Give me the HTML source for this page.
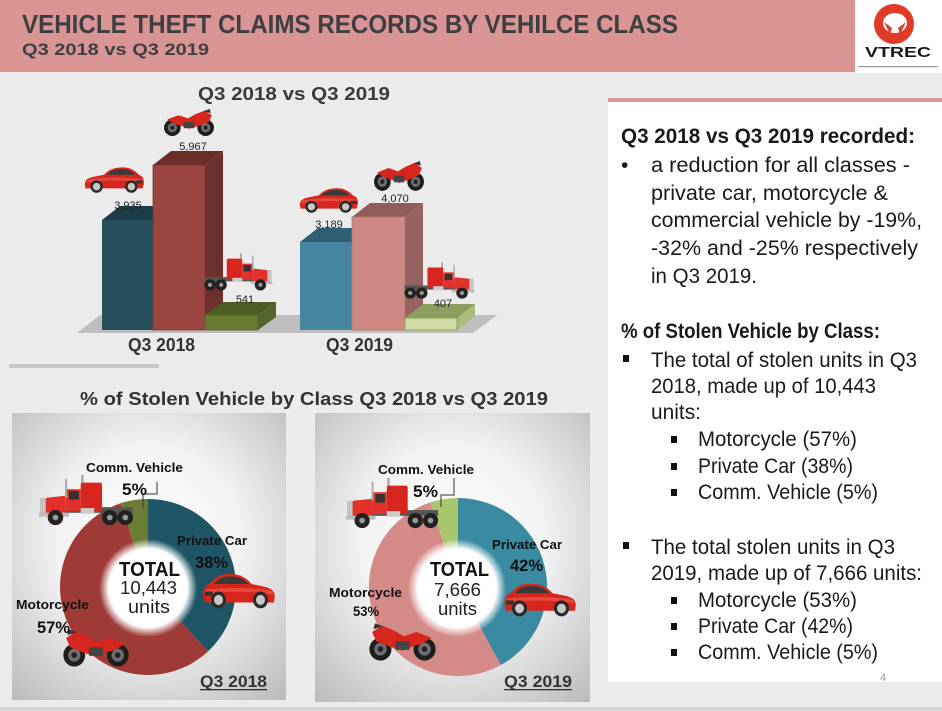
<!DOCTYPE html>
<html><head><meta charset="utf-8">
<style>
html,body{margin:0;padding:0;background:#ebebeb;}
svg{display:block;}
</style></head>
<body>
<svg width="942" height="711" viewBox="0 0 942 711" xmlns="http://www.w3.org/2000/svg" font-family="'Liberation Sans', Arial, sans-serif">
<defs>
  <radialGradient id="panelG" cx="0.5" cy="0.45" r="0.75">
    <stop offset="0" stop-color="#ffffff"/>
    <stop offset="0.45" stop-color="#f2f2f2"/>
    <stop offset="1" stop-color="#b9b9b9"/>
  </radialGradient>
  <radialGradient id="holeG" cx="0.5" cy="0.5" r="0.5">
    <stop offset="0" stop-color="#ffffff"/>
    <stop offset="0.8" stop-color="#ffffff"/>
    <stop offset="1" stop-color="#ffffff" stop-opacity="0"/>
  </radialGradient>
  <symbol id="car" viewBox="0 0 100 50" preserveAspectRatio="none">
    <path d="M3,34 C3,27 8,24 18,22 L34,19 C42,10 52,7 64,7 C76,7 84,12 90,19 C96,21 99,26 98,34 L96,41 L4,41 Z" fill="#d7261e"/>
    <path d="M6,28 C20,24 60,22 96,26 L96,30 C60,27 20,28 6,32 Z" fill="#f0574a" opacity="0.7"/>
    <path d="M38,19 C45,12 53,10 63,10 C72,10 79,13 84,19 Z" fill="#3a3a3a"/>
    <rect x="86" y="28" width="10" height="5" fill="#333"/>
    <circle cx="22" cy="38" r="10" fill="#2a2a2a"/><circle cx="22" cy="38" r="6" fill="#c8c8c8"/>
    <circle cx="78" cy="38" r="10" fill="#2a2a2a"/><circle cx="78" cy="38" r="6" fill="#c8c8c8"/>
  </symbol>
  <symbol id="moto" viewBox="0 0 100 56" preserveAspectRatio="none">
    <circle cx="18" cy="38" r="16" fill="#1e1e1e"/><circle cx="18" cy="38" r="9" fill="#6f6f6f"/><circle cx="18" cy="38" r="4" fill="#222"/>
    <circle cx="82" cy="38" r="16" fill="#1e1e1e"/><circle cx="82" cy="38" r="9" fill="#6f6f6f"/><circle cx="82" cy="38" r="4" fill="#222"/>
    <path d="M8,22 L30,14 L48,20 L62,12 L80,5 L94,14 L88,27 L70,34 L50,40 L34,34 L20,30 Z" fill="#d7261e"/>
    <rect x="40" y="27" width="20" height="12" fill="#444"/>
    <path d="M78,6 L90,2 L92,10 Z" fill="#333"/>
  </symbol>
  <symbol id="truck" viewBox="0 0 100 55" preserveAspectRatio="none">
    <rect x="2" y="34" width="70" height="6" fill="#555"/>
    <rect x="53" y="0" width="2.5" height="30" fill="#aaa"/>
    <rect x="34" y="8" width="22" height="30" fill="#d7261e" rx="2"/>
    <rect x="56" y="15" width="16" height="23" fill="#e2312a"/>
    <rect x="58" y="17" width="10" height="9" fill="#333"/>
    <path d="M72,22 L91,24 L96,28 L96,40 L72,40 Z" fill="#e2312a"/>
    <rect x="92" y="24" width="6" height="16" fill="#c4c4c4"/>
    <rect x="68" y="40" width="31" height="4" fill="#bbb"/>
    <rect x="70" y="4" width="2" height="20" fill="#aaa"/>
    <rect x="42" y="35" width="14" height="6" fill="#ccc"/>
    <circle cx="10" cy="45" r="8" fill="#222"/><circle cx="10" cy="45" r="3" fill="#999"/>
    <circle cx="26" cy="45" r="8" fill="#222"/><circle cx="26" cy="45" r="3" fill="#999"/>
    <circle cx="82" cy="45" r="8" fill="#222"/><circle cx="82" cy="45" r="3" fill="#999"/>
  </symbol>
</defs>

<!-- background -->
<rect x="0" y="0" width="942" height="711" fill="#ebebeb"/>
<rect x="0" y="707" width="942" height="4" fill="#d6d6d6"/>

<!-- header -->
<rect x="0" y="0" width="855" height="72" fill="#d99594"/>
<rect x="855" y="0" width="87" height="73" fill="#ffffff"/>
<text x="22" y="33" font-size="26" font-weight="bold" fill="#3f3f3f" textLength="656" lengthAdjust="spacingAndGlyphs">VEHICLE THEFT CLAIMS RECORDS BY VEHILCE CLASS</text>
<text x="22" y="55" font-size="17" font-weight="bold" fill="#3f3f3f" textLength="187" lengthAdjust="spacingAndGlyphs">Q3 2018 vs Q3 2019</text>
<!-- logo -->
<circle cx="894" cy="24" r="20" fill="#e23a29"/>
<ellipse cx="895" cy="23" rx="12" ry="10" fill="#ffffff"/>
<path d="M884,22 L892,28 L890,34 Z M906,22 L898,28 L900,34 Z" fill="#e23a29"/>
<text x="898" y="57" font-size="15" font-weight="bold" fill="#1a1a1a" text-anchor="middle" textLength="66" lengthAdjust="spacingAndGlyphs">VTREC</text>
<rect x="858" y="66" width="80" height="1.2" fill="#999"/>

<!-- bar chart -->
<text x="198" y="100" font-size="18" font-weight="bold" fill="#3a3a3a" textLength="192" lengthAdjust="spacingAndGlyphs">Q3 2018 vs Q3 2019</text>
<polygon points="77,333 100,315 497,315 473,333" fill="#bebebe"/>

<!-- Q3 2018 bars -->
<polygon points="102,220 153,220 171,206 120,206" fill="#1d3d49"/>
<rect x="102" y="220" width="51" height="110" fill="#27505f"/>
<polygon points="205,165 223,151 223,316 205,330" fill="#6e302c"/>
<polygon points="153,165 205,165 223,151 171,151" fill="#6a2d29"/>
<rect x="153" y="165" width="52" height="165" fill="#9b4540" stroke="#7e3531" stroke-width="0.8"/>
<polygon points="258,315 276,302 276,317 258,330" fill="#55662a"/>
<polygon points="205,315 258,315 276,302 223,302" fill="#4d5d22"/>
<rect x="205" y="315" width="53" height="15" fill="#65792f" stroke="#556628" stroke-width="0.8"/>

<!-- Q3 2019 bars -->
<polygon points="300,242 352,242 370,228 318,228" fill="#2f5f73"/>
<rect x="300" y="242" width="52" height="88" fill="#4585a0"/>
<polygon points="405,217 423,203 423,316 405,330" fill="#966360"/>
<polygon points="352,217 405,217 423,203 370,203" fill="#8f5c58"/>
<rect x="352" y="217" width="53" height="113" fill="#cd8883" stroke="#b37470" stroke-width="0.8"/>
<polygon points="457,318 475,304 475,316 457,330" fill="#aabb7a"/>
<polygon points="405,318 457,318 475,304 423,304" fill="#8c9e5f"/>
<rect x="405" y="318" width="52" height="12" fill="#d0dca6" stroke="#8aa24a" stroke-width="1"/>

<!-- bar labels -->
<g font-size="11" fill="#222" text-anchor="middle">
<text x="128" y="209">3,935</text>
<text x="193" y="150">5,967</text>
<text x="245" y="303">541</text>
<text x="329" y="228">3,189</text>
<text x="395" y="202">4,070</text>
<text x="443" y="307">407</text>
</g>
<text x="128" y="351" font-size="18" font-weight="bold" fill="#333" textLength="67" lengthAdjust="spacingAndGlyphs">Q3 2018</text>
<text x="326" y="351" font-size="18" font-weight="bold" fill="#333" textLength="67" lengthAdjust="spacingAndGlyphs">Q3 2019</text>

<!-- bar vehicle images -->
<use href="#car" x="83" y="163" width="62" height="31"/>
<use href="#moto" x="163" y="108" width="52" height="29"/>
<use href="#truck" x="203" y="253" width="70" height="39"/>
<use href="#car" x="298" y="184" width="61" height="30"/>
<use href="#moto" x="373" y="160" width="52" height="32"/>
<use href="#truck" x="403" y="262" width="72" height="38"/>

<rect x="9" y="364" width="150" height="4" fill="#c6c6c6"/>

<!-- donut section title -->
<text x="80" y="405" font-size="18" font-weight="bold" fill="#333" textLength="468" lengthAdjust="spacingAndGlyphs">% of Stolen Vehicle by Class Q3 2018 vs Q3 2019</text>

<!-- donut panels -->
<rect x="12" y="413" width="274" height="287" fill="url(#panelG)"/>
<rect x="315" y="413" width="275" height="289" fill="url(#panelG)"/>

<!-- donut 2018 -->
<path d="M148,587 L148,499 A88,88 0 0 1 208.2,651.2 Z" fill="#1f5666"/>
<path d="M148,587 L208.2,651.2 A88,88 0 1 1 120.8,503.3 Z" fill="#9e3b36"/>
<path d="M148,587 L120.8,503.3 A88,88 0 0 1 148,499 Z" fill="#6b7d35"/>
<circle cx="148" cy="588" r="49" fill="url(#holeG)"/>

<!-- donut 2019 -->
<path d="M458,587 L458,498 A89,89 0 0 1 500.9,665 Z" fill="#3a8ba2"/>
<path d="M458,587 L500.9,665 A89,89 0 1 1 430.5,502.4 Z" fill="#d48a86"/>
<path d="M458,587 L430.5,502.4 A89,89 0 0 1 458,498 Z" fill="#a8c66c"/>
<circle cx="457" cy="588" r="49" fill="url(#holeG)"/>

<!-- leader lines -->
<polyline points="157,482 157,494 143,494 143,508" fill="none" stroke="#333" stroke-width="1"/>
<polyline points="454,478 454,495 441,495 441,507" fill="none" stroke="#333" stroke-width="1"/>

<!-- donut images -->
<g transform="translate(135,475) scale(-1,1)"><use href="#truck" x="0" y="0" width="97" height="52"/></g>
<g transform="translate(277,568) scale(-1,1)"><use href="#car" x="0" y="0" width="75" height="42"/></g>
<g transform="translate(130,628) scale(-1,1)"><use href="#moto" x="0" y="0" width="68" height="40"/></g>
<g transform="translate(440,478) scale(-1,1)"><use href="#truck" x="0" y="0" width="95" height="52"/></g>
<g transform="translate(578,578) scale(-1,1)"><use href="#car" x="0" y="0" width="75" height="40"/></g>
<g transform="translate(437,622) scale(-1,1)"><use href="#moto" x="0" y="0" width="69" height="40"/></g>

<!-- donut labels 2018 -->
<g fill="#111" font-weight="bold">
<text x="86" y="472" font-size="13" textLength="97" lengthAdjust="spacingAndGlyphs">Comm. Vehicle</text>
<text x="122" y="495" font-size="17" textLength="25" lengthAdjust="spacingAndGlyphs">5%</text>
<text x="177" y="545" font-size="13" textLength="70" lengthAdjust="spacingAndGlyphs">Private Car</text>
<text x="195" y="568" font-size="17" textLength="33" lengthAdjust="spacingAndGlyphs">38%</text>
<text x="119" y="576" font-size="20" textLength="61" lengthAdjust="spacingAndGlyphs">TOTAL</text>
<text x="16" y="609" font-size="13" textLength="73" lengthAdjust="spacingAndGlyphs">Motorcycle</text>
<text x="37" y="633" font-size="17" textLength="33" lengthAdjust="spacingAndGlyphs">57%</text>
<text x="200" y="687" font-size="17" fill="#333" textLength="67" lengthAdjust="spacingAndGlyphs">Q3 2018</text>
</g>
<rect x="200" y="689" width="67" height="1.3" fill="#333"/>
<text x="120" y="594" font-size="18" fill="#222" textLength="57" lengthAdjust="spacingAndGlyphs">10,443</text>
<text x="128" y="613" font-size="18" fill="#222" textLength="42" lengthAdjust="spacingAndGlyphs">units</text>

<!-- donut labels 2019 -->
<g fill="#111" font-weight="bold">
<text x="378" y="474" font-size="13" textLength="96" lengthAdjust="spacingAndGlyphs">Comm. Vehicle</text>
<text x="413" y="497" font-size="17" textLength="25" lengthAdjust="spacingAndGlyphs">5%</text>
<text x="492" y="549" font-size="13" textLength="70" lengthAdjust="spacingAndGlyphs">Private Car</text>
<text x="510" y="571" font-size="17" textLength="33" lengthAdjust="spacingAndGlyphs">42%</text>
<text x="430" y="576" font-size="20" textLength="59" lengthAdjust="spacingAndGlyphs">TOTAL</text>
<text x="329" y="597" font-size="13" textLength="73" lengthAdjust="spacingAndGlyphs">Motorcycle</text>
<text x="353" y="616" font-size="14" textLength="26" lengthAdjust="spacingAndGlyphs">53%</text>
<text x="504" y="687" font-size="17" fill="#333" textLength="68" lengthAdjust="spacingAndGlyphs">Q3 2019</text>
</g>
<rect x="504" y="689" width="68" height="1.3" fill="#333"/>
<text x="434" y="596" font-size="18" fill="#222" textLength="47" lengthAdjust="spacingAndGlyphs">7,666</text>
<text x="438" y="615" font-size="18" fill="#222" textLength="39" lengthAdjust="spacingAndGlyphs">units</text>

<!-- right panel -->
<rect x="608" y="98" width="334" height="584" fill="#ffffff"/>
<rect x="608" y="98" width="334" height="4" fill="#dc9a9a"/>
<g font-size="21" fill="#1a1a1a">
<text x="621" y="143" font-weight="bold" textLength="294" lengthAdjust="spacingAndGlyphs">Q3 2018 vs Q3 2019 recorded:</text>
<text x="621" y="172">•</text>
<text x="651" y="172" textLength="259" lengthAdjust="spacingAndGlyphs">a reduction for all classes  -</text>
<text x="651" y="200" textLength="237" lengthAdjust="spacingAndGlyphs">private car, motorcycle &amp;</text>
<text x="651" y="227" textLength="271" lengthAdjust="spacingAndGlyphs">commercial vehicle by -19%,</text>
<text x="651" y="255" textLength="267" lengthAdjust="spacingAndGlyphs">-32% and  -25% respectively</text>
<text x="651" y="283" textLength="106" lengthAdjust="spacingAndGlyphs">in Q3 2019.</text>
<text x="621" y="338" font-weight="bold" textLength="259" lengthAdjust="spacingAndGlyphs">% of Stolen Vehicle by Class:</text>
<text x="651" y="367" textLength="266" lengthAdjust="spacingAndGlyphs">The total of stolen units in Q3</text>
<text x="651" y="393" textLength="225" lengthAdjust="spacingAndGlyphs">2018, made up of 10,443</text>
<text x="651" y="419" textLength="50" lengthAdjust="spacingAndGlyphs">units:</text>
<text x="698" y="446" textLength="159" lengthAdjust="spacingAndGlyphs">Motorcycle (57%)</text>
<text x="698" y="473" textLength="155" lengthAdjust="spacingAndGlyphs">Private Car (38%)</text>
<text x="698" y="499" textLength="180" lengthAdjust="spacingAndGlyphs">Comm. Vehicle (5%)</text>
<text x="651" y="554" textLength="244" lengthAdjust="spacingAndGlyphs">The total stolen units in Q3</text>
<text x="651" y="580" textLength="271" lengthAdjust="spacingAndGlyphs">2019, made up of 7,666 units:</text>
<text x="698" y="607" textLength="159" lengthAdjust="spacingAndGlyphs">Motorcycle (53%)</text>
<text x="698" y="633" textLength="155" lengthAdjust="spacingAndGlyphs">Private Car (42%)</text>
<text x="698" y="659" textLength="180" lengthAdjust="spacingAndGlyphs">Comm. Vehicle (5%)</text>
</g>
<g fill="#111">
<rect x="623" y="355" width="6" height="7"/>
<rect x="623" y="542" width="6" height="7"/>
<rect x="671" y="436" width="6" height="7"/>
<rect x="671" y="463" width="6" height="7"/>
<rect x="671" y="489" width="6" height="7"/>
<rect x="671" y="597" width="6" height="7"/>
<rect x="671" y="623" width="6" height="7"/>
<rect x="671" y="649" width="6" height="7"/>
</g>
<text x="883" y="681" font-size="11" fill="#9a9a9a" text-anchor="middle">4</text>
</svg>
</body></html>
